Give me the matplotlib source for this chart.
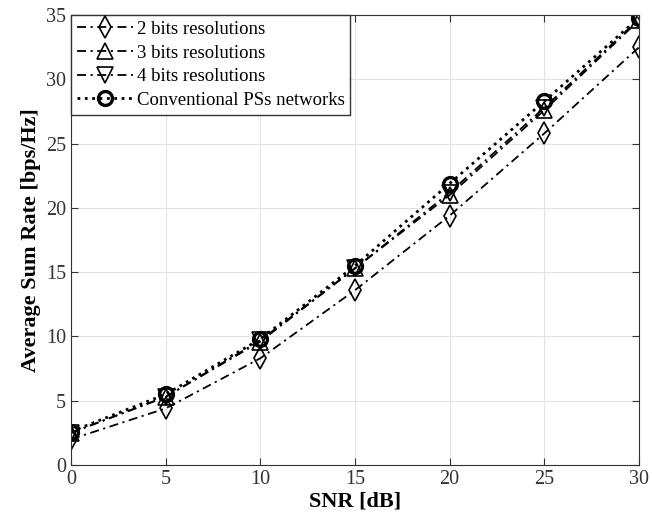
import numpy as np
import matplotlib.pyplot as plt

plt.rcParams['font.family'] = ['Liberation Serif', 'DejaVu Serif']

snr = [0, 5, 10, 15, 20, 25, 30]
rate_2bit = [2.0, 4.4, 8.3, 13.6, 19.4, 25.8, 32.5]
rate_3bit = [2.5, 5.3, 9.6, 15.3, 21.0, 27.6, 34.6]
rate_4bit = [2.5, 5.3, 9.7, 15.3, 21.2, 27.8, 34.7]
rate_conv = [2.6, 5.5, 9.8, 15.5, 21.9, 28.3, 34.8]
labels = ["2 bits resolutions", "3 bits resolutions", "4 bits resolutions",
          "Conventional PSs networks"]

fig = plt.figure(figsize=(6.52, 5.23), dpi=100)
ax = fig.add_axes([0.109, 0.111, 0.871, 0.860])

mk = dict(color='black', markerfacecolor='none', markeredgecolor='black',
          markersize=11, markeredgewidth=1.2, linewidth=1.3,
          dashes=(5, 2.5, 1.2, 2.5))
ax.plot(snr, rate_2bit, marker='d', label=labels[0], **mk)
ax.plot(snr, rate_3bit, marker='^', label=labels[1], **mk)
ax.plot(snr, rate_4bit, marker='v', label=labels[2], **mk)
ax.plot(snr, rate_conv, linestyle=':', marker='o', label=labels[3],
        color='black', markerfacecolor='none', markeredgecolor='black',
        markersize=10, markeredgewidth=2.4, linewidth=2.0)

ax.set_xlim(0, 30)
ax.set_ylim(0, 35)
ax.set_xticks(range(0, 31, 5))
ax.set_yticks(range(0, 36, 5))
ax.grid(True, color='#e3e3e3', linewidth=0.8)
ax.tick_params(direction='in', top=True, right=True, labelsize=14.5,
               length=5, colors='#333333', labelcolor='#333333')
for s in ax.spines.values():
    s.set_color('#333333')

ax.set_xlabel("SNR [dB]", fontsize=16, fontweight='bold', labelpad=2)
ax.set_ylabel("Average Sum Rate [bps/Hz]", fontsize=16, fontweight='bold',
              labelpad=4)

leg = ax.legend(loc='upper left', fontsize=13.5, handlelength=3.0,
                borderaxespad=0.0, fancybox=False, edgecolor='#333333',
                framealpha=1, labelspacing=0.35, borderpad=0.3,
                handletextpad=0.2)

plt.savefig("out.png", dpi=100)
